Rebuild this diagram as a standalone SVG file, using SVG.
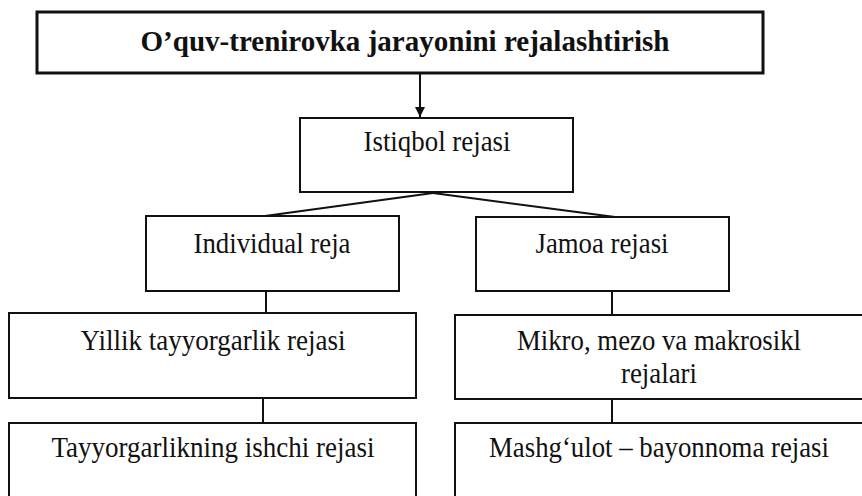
<svg xmlns="http://www.w3.org/2000/svg" width="862" height="496" viewBox="0 0 862 496">
<style>
  .box{fill:#fff;stroke:#111;stroke-width:2}
  .top{fill:#fff;stroke:#111;stroke-width:3}
  .t{font-family:"Liberation Serif","Times New Roman",serif;font-size:29px;fill:#111;text-anchor:middle}
  .title{font-family:"Liberation Serif","Times New Roman",serif;font-size:29px;font-weight:bold;fill:#111;text-anchor:middle}
  .c{stroke:#111;stroke-width:2;fill:none}
</style>
<defs>
  <marker id="arr" viewBox="0 0 10 10" refX="10" refY="5" markerWidth="5" markerHeight="7" orient="auto" markerUnits="strokeWidth">
    <path d="M0,0 L10,5 L0,10 Z" fill="#111"/>
  </marker>
</defs>
<rect width="862" height="496" fill="#fff"/>
<g id="connectors">
  <line class="c" x1="420" y1="74" x2="420" y2="117" marker-end="url(#arr)"/>
  <line class="c" x1="433" y1="193" x2="265" y2="216"/>
  <line class="c" x1="433" y1="193" x2="615" y2="217"/>
  <line class="c" x1="266" y1="291" x2="266" y2="313"/>
  <line class="c" x1="612" y1="291" x2="612" y2="315"/>
  <line class="c" x1="263" y1="398" x2="263" y2="423"/>
  <line class="c" x1="612" y1="399" x2="612" y2="423"/>
</g>
<g id="n-top">
  <rect class="top" x="37" y="12" width="726" height="61"/>
  <text class="title" x="405" y="51" textLength="529" lengthAdjust="spacingAndGlyphs">O’quv-trenirovka jarayonini rejalashtirish</text>
</g>
<g id="n-istiqbol">
  <rect class="box" x="300" y="118" width="273" height="74"/>
  <text class="t" x="437" y="151" textLength="147" lengthAdjust="spacingAndGlyphs">Istiqbol rejasi</text>
</g>
<g id="n-individual">
  <rect class="box" x="146" y="216" width="253" height="75"/>
  <text class="t" x="272" y="253" textLength="157" lengthAdjust="spacingAndGlyphs">Individual reja</text>
</g>
<g id="n-jamoa">
  <rect class="box" x="476" y="217" width="253" height="74"/>
  <text class="t" x="602" y="253" textLength="133" lengthAdjust="spacingAndGlyphs">Jamoa rejasi</text>
</g>
<g id="n-yillik">
  <rect class="box" x="9" y="313" width="407" height="85"/>
  <text class="t" x="213" y="350" textLength="265" lengthAdjust="spacingAndGlyphs">Yillik tayyorgarlik rejasi</text>
</g>
<g id="n-mikro">
  <rect class="box" x="455" y="315" width="410" height="84"/>
  <text class="t" x="659" y="350" textLength="284" lengthAdjust="spacingAndGlyphs">Mikro, mezo va makrosikl</text>
  <text class="t" x="659" y="383" textLength="76" lengthAdjust="spacingAndGlyphs">rejalari</text>
</g>
<g id="n-tayyor">
  <rect class="box" x="9" y="423" width="407" height="80"/>
  <text class="t" x="213" y="457" textLength="323" lengthAdjust="spacingAndGlyphs">Tayyorgarlikning ishchi rejasi</text>
</g>
<g id="n-mashg">
  <rect class="box" x="455" y="423" width="410" height="80"/>
  <text class="t" x="659" y="457" textLength="340" lengthAdjust="spacingAndGlyphs">Mashg‘ulot – bayonnoma rejasi</text>
</g>
</svg>
